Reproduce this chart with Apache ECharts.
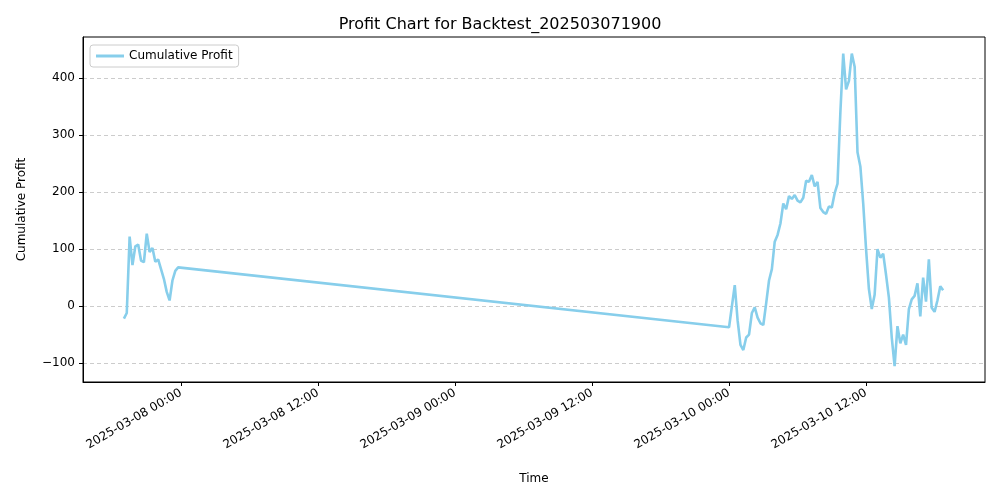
<!DOCTYPE html>
<html><head><meta charset="utf-8">
<script src="https://cdn.jsdelivr.net/npm/echarts@6/dist/echarts.min.js"></script>
<style>html,body{margin:0;padding:0;background:#fff}#c{width:1000px;height:500px}</style>
</head><body><div id="c"></div>
<script>
const times1 = ["2025-03-07 19:00","2025-03-07 19:15","2025-03-07 19:30","2025-03-07 19:45","2025-03-07 20:00","2025-03-07 20:15","2025-03-07 20:30","2025-03-07 20:45","2025-03-07 21:00","2025-03-07 21:15","2025-03-07 21:30","2025-03-07 21:45","2025-03-07 22:00","2025-03-07 22:15","2025-03-07 22:30","2025-03-07 22:45","2025-03-07 23:00","2025-03-07 23:15","2025-03-07 23:30","2025-03-07 23:45"];
const profit1 = [-22,-12,122,72,105,108,80,77,127,95,102,78,82,65,48,25,10,45,62,68];
const times2 = ["00:00","00:15","00:30","00:45","01:00","01:15","01:30","01:45","02:00","02:15","02:30","02:45","03:00","03:15","03:30","03:45","04:00","04:15","04:30","04:45","05:00","05:15","05:30","05:45","06:00","06:15","06:30","06:45","07:00","07:15","07:30","07:45","08:00","08:15","08:30","08:45","09:00","09:15","09:30","09:45","10:00","10:15","10:30","10:45","11:00","11:15","11:30","11:45","12:00","12:15","12:30","12:45","13:00","13:15","13:30","13:45","14:00","14:15","14:30","14:45","15:00","15:15","15:30","15:45","16:00","16:15","16:30","16:45","17:00","17:15","17:30","17:45","18:00","18:15","18:30","18:45"].map(t=>"2025-03-10 "+t);
const profit2 = [-37,0,37,-25,-68,-77,-55,-50,-12,-2,-20,-30,-33,5,45,65,113,125,145,180,170,193,188,195,185,182,190,220,218,230,210,218,172,165,162,175,173,198,215,340,443,380,395,443,420,270,245,180,100,30,-5,20,100,85,92,55,15,-55,-105,-35,-65,-50,-68,-5,12,18,40,-18,50,8,82,-3,-10,10,35,28];
const xTickLabels = ["2025-03-08 00:00","2025-03-08 12:00","2025-03-09 00:00","2025-03-09 12:00","2025-03-10 00:00","2025-03-10 12:00"];
const yTicks = [-100,0,100,200,300,400];

const ts = s => new Date(s.replace(' ','T')+':00Z').getTime();
const data = times1.map((t,i)=>[ts(t),profit1[i]]).concat(times2.map((t,i)=>[ts(t),profit2[i]]));
const xTicks = xTickLabels.map(ts);
const pad = n => String(n).padStart(2,'0');
const fmt = v => { const d=new Date(v); return d.getUTCFullYear()+'-'+pad(d.getUTCMonth()+1)+'-'+pad(d.getUTCDate())+' '+pad(d.getUTCHours())+':'+pad(d.getUTCMinutes()); };

const chart = echarts.init(document.getElementById('c'));
chart.setOption({
  animation:false,
  textStyle:{fontFamily:'DejaVu Sans'},
  title:{text:'Profit Chart for Backtest_202503071900',left:'center',top:12,textStyle:{fontSize:16,fontWeight:'normal',color:'#000',fontFamily:'DejaVu Sans'}},
  legend:{left:90,top:45,orient:'vertical',data:['Cumulative Profit'],itemWidth:28,itemHeight:3,icon:'rect',
    textStyle:{fontSize:12,color:'#000'},borderColor:'#ccc',borderWidth:1,borderRadius:3,padding:[5,6,5,6]},
  grid:{left:83,right:15,top:37,bottom:118,show:true,borderColor:'#000',borderWidth:1},
  xAxis:{type:'value',min:ts('2025-03-07 15:25'),max:ts('2025-03-10 22:25'),
    name:'Time',nameLocation:'middle',nameGap:91,nameTextStyle:{fontSize:12,color:'#000'},
    axisLine:{onZero:false,lineStyle:{color:'#000'}},
    axisTick:{customValues:xTicks,length:4,lineStyle:{color:'#000'}},
    axisLabel:{customValues:xTicks,formatter:fmt,rotate:30,color:'#000',fontSize:12,margin:10},
    splitLine:{show:false}},
  yAxis:{type:'value',min:-133,max:472,
    name:'Cumulative Profit',nameLocation:'middle',nameGap:55,nameTextStyle:{fontSize:12,color:'#000'},
    axisLine:{show:true,lineStyle:{color:'#000'}},
    axisTick:{show:true,customValues:yTicks,length:4,lineStyle:{color:'#000'}},
    axisLabel:{customValues:yTicks,color:'#000',fontSize:12,formatter:v=>v<0?'\u2212'+(-v):String(v)},
    splitLine:{show:true,lineStyle:{color:'#ccc',type:[4,3]}}},
  series:[{name:'Cumulative Profit',type:'line',data:data,showSymbol:false,
    lineStyle:{color:'#87CEEB',width:2.6},itemStyle:{color:'#87CEEB'}}]
});
</script></body></html>
